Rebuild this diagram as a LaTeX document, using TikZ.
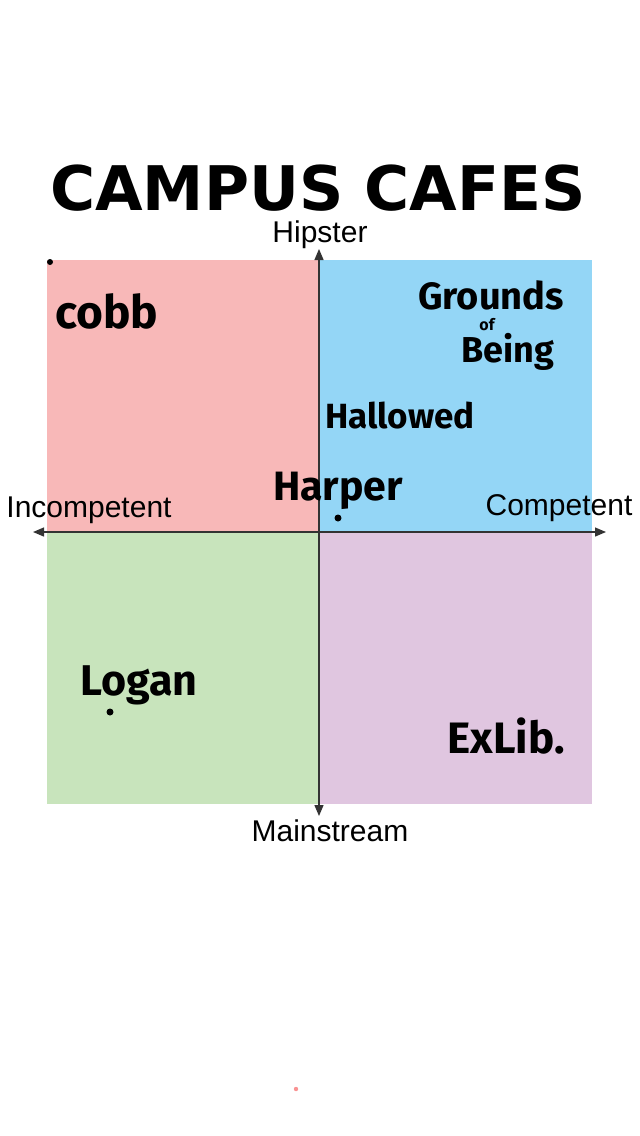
\documentclass[tikz,border=0pt]{standalone}
\usepackage{fontspec}
\setmainfont{Liberation Sans}
\newfontfamily\titlefont{DejaVu Sans}
\newfontfamily\handfont{Fira Sans}
\usetikzlibrary{arrows.meta, positioning}

\definecolor{pinkq}{HTML}{F8B8B8}
\definecolor{blueq}{HTML}{94D6F6}
\definecolor{greenq}{HTML}{C8E4BC}
\definecolor{purpleq}{HTML}{E0C6E0}
\definecolor{axisgray}{HTML}{333333}

\begin{document}
\begin{tikzpicture}[
  x=1pt, y=-1pt,
  axis/.style={{Triangle[length=11pt,width=9pt]}-{Triangle[length=11pt,width=9pt]},
               line width=1.3pt, draw=axisgray},
  axislabel/.style={inner sep=0pt, font=\fontsize{30}{32}\selectfont},
  hand/.style={inner sep=0pt, font=\handfont\bfseries\fontsize{#1}{#1}\selectfont},
  hand/.default=38,
  blob/.style={fill=black}
]
  \useasboundingbox (0,0) rectangle (640,1136);

  % quadrants
  \fill[pinkq]   (47,260)  rectangle (319,532);
  \fill[blueq]   (319,260) rectangle (592,532);
  \fill[greenq]  (47,532)  rectangle (319,804);
  \fill[purpleq] (319,532) rectangle (592,804);

  \node[font=\titlefont\bfseries\fontsize{61.5}{63}\selectfont, inner sep=0pt]
        (Title) at (318,188) {CAMPUS CAFES};

  % axes
  \coordinate (West)  at (33,532);
  \coordinate (East)  at (606,532);
  \coordinate (North) at (319,249);
  \coordinate (South) at (319,816);
  \draw[axis] (West) -- (East);
  \draw[axis] (South) -- (North);

  \node[axislabel] (Hip)    at (320,235) {Hipster};
  \node[axislabel] (Main)   at (330,831) {Mainstream};
  \node[axislabel] (Incomp) at (89,510) {Incompetent};
  \node[axislabel] (Comp)   at (559,508) {Competent};

  % cafes
  \node[hand=46] (Cobb)     at (107,311) {cobb};
  \node[hand=38] (Grounds)  at (491,295) {Grounds};
  \node[hand=16] (Of)       at (487,325) {of};
  \node[hand=36] (Being)    at (508,352) {Being};
  \node[hand=35] (Hallowed) at (400,416) {Hallowed};
  \node[hand=41] (Harper)   at (338,491) {Harper};
  \node[hand=43] (Logan)    at (139,685) {Logan};
  \node[hand=44] (ExLib)    at (506,736) {ExLib.};

  \fill[blob] (50,262) circle (3);
  \fill[blob] (338,518) circle (3.5);
  \fill[blob] (110,712) circle (3.5);
  \fill[pinkq!80!red] (296,1089) circle (2.2);
\end{tikzpicture}
\end{document}
